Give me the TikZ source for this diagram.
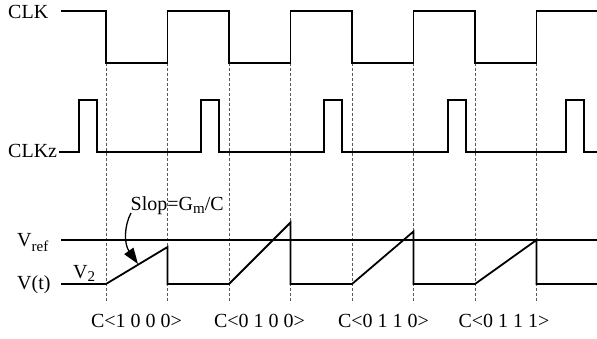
\documentclass[tikz,border=0pt]{standalone}
\usepackage{fontspec}
\setmainfont{Liberation Serif}
\usetikzlibrary{arrows.meta}
\tikzset{
  wave/.style={line width=1.8pt, line join=miter, line cap=butt},
  dashline/.style={line width=0.6pt, draw=black!65, dash pattern=on 3pt off 2pt},
  lbl/.style={inner sep=0pt, font=\fontsize{20}{24}\selectfont},
}
\begin{document}
\begin{tikzpicture}[x=1pt,y=-1pt]
\useasboundingbox (0,0) rectangle (597,339);
% dashed guides
\foreach \x/\n in {106/a,167.5/b,229/c,290.5/d,352/e,413.5/f,475/g,536.5/h}{
  \coordinate (top\n) at (\x,63);
  \coordinate (bot\n) at (\x,303);
  \draw[dashline] (top\n) -- (bot\n);
}
% CLK
\draw[wave] (61,11) -- (106,11) -- (106,63) -- (167.5,63) -- (167.5,11) -- (229,11) -- (229,63) -- (290.5,63) -- (290.5,11) -- (352,11) -- (352,63) -- (413.5,63) -- (413.5,11) -- (475,11) -- (475,63) -- (536.5,63) -- (536.5,11) -- (599,11);
% CLKz
\draw[wave] (59,152) -- (79,152) -- (79,100) -- (97,100) -- (97,152) -- (201,152) -- (201,100) -- (219,100) -- (219,152) -- (324,152) -- (324,100) -- (342,100) -- (342,152) -- (448,152) -- (448,100) -- (466,100) -- (466,152) -- (566,152) -- (566,100) -- (584,100) -- (584,152) -- (599,152);
% Vref
\draw[wave] (61,240) -- (599,240);
% V(t)
\draw[wave] (61,284) -- (106,284) -- (167.5,247) -- (167.5,284) -- (229,284) -- (290.5,222.5) -- (290.5,284) -- (352,284) -- (413.5,231.5) -- (413.5,284) -- (475,284) -- (536.5,240) -- (536.5,284) -- (599,284);
% labels
\node[lbl, anchor=base west] (clk) at (8,18.5) {CLK};
\node[lbl, anchor=base west] (clkz) at (8,157.5) {CLKz};
\node[lbl, anchor=base west] (vref) at (17,247) {V\raisebox{-5pt}{\fontsize{15}{18}\selectfont ref}};
\node[lbl, anchor=base west] (vt) at (17,289) {V(t)};
\node[lbl, anchor=base west] (v2) at (73,278) {V\raisebox{-3pt}{\fontsize{15}{18}\selectfont 2}};
\node[lbl, anchor=base west] (slop) at (130.5,210.5) {Slop=G\raisebox{-3pt}{\fontsize{15}{18}\selectfont m}/C};
\node[lbl, anchor=base] (c1) at (136.5,327) {C<1 0 0 0>};
\node[lbl, anchor=base] (c2) at (259.5,327) {C<0 1 0 0>};
\node[lbl, anchor=base] (c3) at (383.5,327) {C<0 1 1 0>};
\node[lbl, anchor=base] (c4) at (504,327) {C<0 1 1 1>};
% arrow
\coordinate (arrs) at (131,213);
\coordinate (arrt) at (138,264);
\draw[line width=1.3pt, -{Triangle[length=16pt,width=11pt]}] (arrs) .. controls (124,226) and (124,244) .. (arrt);
\end{tikzpicture}
\end{document}
